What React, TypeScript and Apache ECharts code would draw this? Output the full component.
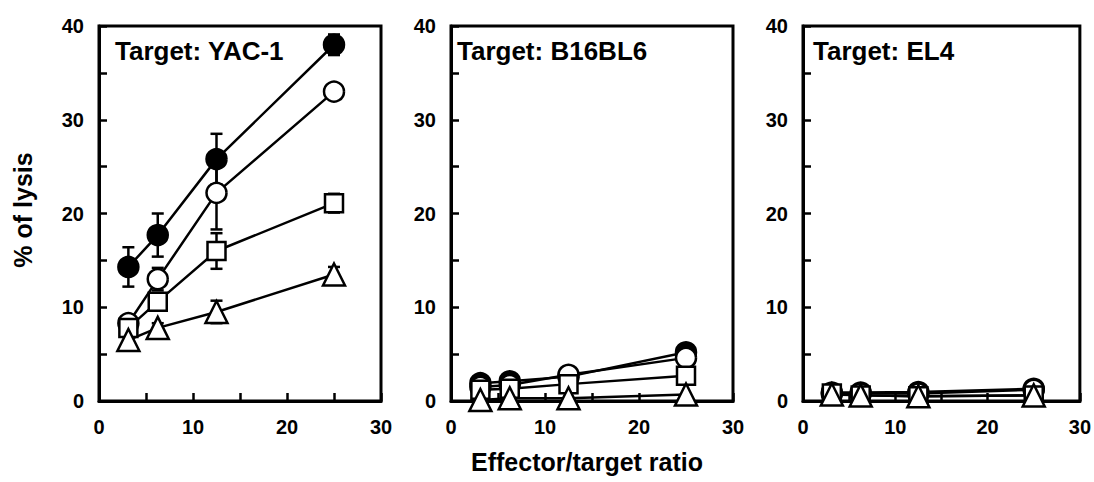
import React, { useEffect, useRef } from "react";
import * as echarts from "echarts";

// E/T ratios
const ratios = [3.125, 6.25, 12.5, 25];
const panelTitles = ["Target: YAC-1", "Target: B16BL6", "Target: EL4"];
const yAxisTitle = "% of lysis";
const xAxisTitle = "Effector/target ratio";

// Panel 1: YAC-1
const yacFilled = [14.3, 17.7, 25.8, 38.0];
const yacOpen = [8.3, 13.0, 22.2, 33.0];
const yacSquare = [7.8, 10.6, 16.0, 21.1];
const yacTriangle = [6.5, 7.8, 9.5, 13.5];
const yacFilledErr = [2.1, 2.3, 2.7, 1.1];
const yacOpenErr = [0.5, 1.2, 3.9, 0.6];
const yacSquareErr = [0.6, 0.7, 1.9, 1.0];
const yacTriangleErr = [0.5, 0.5, 1.2, 0.8];

// Panel 2: B16BL6
const b16Filled = [1.9, 2.1, 2.6, 5.2];
const b16Open = [1.5, 1.7, 2.8, 4.6];
const b16Square = [1.2, 1.3, 1.8, 2.7];
const b16Triangle = [0.1, 0.3, 0.3, 0.7];

// Panel 3: EL4
const el4Filled = [0.9, 0.9, 0.95, 1.3];
const el4Open = [0.8, 0.8, 0.8, 1.2];
const el4Square = [0.8, 0.6, 0.5, 0.6];
const el4Triangle = [0.7, 0.6, 0.5, 0.6];

const FONT = "'Liberation Sans', Arial, sans-serif";

const panels = [
  { filled: yacFilled, open: yacOpen, square: yacSquare, triangle: yacTriangle,
    errs: [yacFilledErr, yacOpenErr, yacSquareErr, yacTriangleErr] },
  { filled: b16Filled, open: b16Open, square: b16Square, triangle: b16Triangle, errs: null },
  { filled: el4Filled, open: el4Open, square: el4Square, triangle: el4Triangle, errs: null },
];

const gridLefts = [99, 451, 803];
const titleX = [115, 457, 813];
const GRID_W = 282;
const GRID_TOP = 26;
const GRID_H = 375;

export default function App() {
  const ref = useRef<HTMLDivElement>(null);
  useEffect(() => {
    if (!ref.current) return;
    const chart = echarts.init(ref.current, null, { renderer: "svg" });

    const grids: any[] = [];
    const xAxes: any[] = [];
    const yAxes: any[] = [];
    const series: any[] = [];
    const graphics: any[] = [];

    panels.forEach((p, i) => {
      grids.push({
        left: gridLefts[i], top: GRID_TOP, width: GRID_W, height: GRID_H,
        show: true, borderColor: "#000", borderWidth: 3, backgroundColor: "transparent",
        containLabel: false,
      });
      xAxes.push({
        type: "value", gridIndex: i, min: 0, max: 30, interval: 5,
        axisLine: { show: true, onZero: false, lineStyle: { color: "#000", width: 3 } },
        axisTick: { show: true, inside: true, length: 8, lineStyle: { color: "#000", width: 2.5 } },
        axisLabel: {
          color: "#000", fontSize: 20, fontWeight: "bold", fontFamily: FONT, margin: 16,
          formatter: (v: number) => (v % 10 === 0 ? String(v) : ""),
        },
        splitLine: { show: false },
      });
      yAxes.push({
        type: "value", gridIndex: i, min: 0, max: 40, interval: 5,
        axisLine: { show: true, onZero: false, lineStyle: { color: "#000", width: 3 } },
        axisTick: { show: true, inside: true, length: 8, lineStyle: { color: "#000", width: 2.5 } },
        axisLabel: {
          color: "#000", fontSize: 20, fontWeight: "bold", fontFamily: FONT, margin: 15,
          formatter: (v: number) => (v % 10 === 0 ? String(v) : ""),
        },
        splitLine: { show: false },
      });

      const defs = [
        { vals: p.filled, symbol: "circle", size: 20, fill: "#000" },
        { vals: p.open, symbol: "circle", size: 20, fill: "#fff" },
        { vals: p.square, symbol: "rect", size: 18, fill: "#fff" },
        { vals: p.triangle, symbol: "triangle", size: 22, fill: "#fff" },
      ];

      if (p.errs) {
        defs.forEach((d, k) => {
          const errs = p.errs![k];
          series.push({
            type: "custom",
            xAxisIndex: i, yAxisIndex: i, z: 1, clip: false,
            data: ratios.map((r, j) => [r, d.vals[j] - errs[j], d.vals[j] + errs[j]]),
            renderItem: (params: any, api: any) => {
              const x = api.value(0);
              const lo = api.coord([x, api.value(1)]);
              const hi = api.coord([x, api.value(2)]);
              const cap = 6;
              const st = { stroke: "#000", lineWidth: 2.5 };
              return {
                type: "group",
                children: [
                  { type: "line", shape: { x1: lo[0], y1: lo[1], x2: hi[0], y2: hi[1] }, style: st },
                  { type: "line", shape: { x1: lo[0] - cap, y1: lo[1], x2: lo[0] + cap, y2: lo[1] }, style: st },
                  { type: "line", shape: { x1: hi[0] - cap, y1: hi[1], x2: hi[0] + cap, y2: hi[1] }, style: st },
                ],
              };
            },
          });
        });
      }

      defs.forEach((d) => {
        series.push({
          type: "line",
          xAxisIndex: i, yAxisIndex: i, z: 3, clip: false,
          data: ratios.map((r, j) => [r, d.vals[j]]),
          symbol: d.symbol, symbolSize: d.size, showAllSymbol: true,
          lineStyle: { color: "#000", width: 2.5 },
          itemStyle: { color: d.fill, borderColor: "#000", borderWidth: 2.5 },
          emphasis: { disabled: true },
        });
      });

      graphics.push({
        type: "text", x: titleX[i], y: 51,
        style: {
          text: panelTitles[i], fill: "#000", font: `bold 26px ${FONT}`,
          textVerticalAlign: "middle", textAlign: "left",
        },
      });
    });

    graphics.push({
      type: "text", x: 23, y: 210, rotation: Math.PI / 2,
      style: {
        text: yAxisTitle, fill: "#000", font: `bold 25px ${FONT}`,
        textAlign: "center", textVerticalAlign: "middle",
      },
    });
    graphics.push({
      type: "text", x: 587, y: 462,
      style: {
        text: xAxisTitle, fill: "#000", font: `bold 25px ${FONT}`,
        textAlign: "center", textVerticalAlign: "middle",
      },
    });

    chart.setOption({
      animation: false,
      backgroundColor: "#fff",
      grid: grids,
      xAxis: xAxes,
      yAxis: yAxes,
      series,
      graphic: graphics,
    });
    return () => chart.dispose();
  }, []);
  return (
    <div
      ref={ref}
      style={{ position: "absolute", left: 0, top: 0, width: 1094, height: 482, background: "#fff" }}
    />
  );
}
